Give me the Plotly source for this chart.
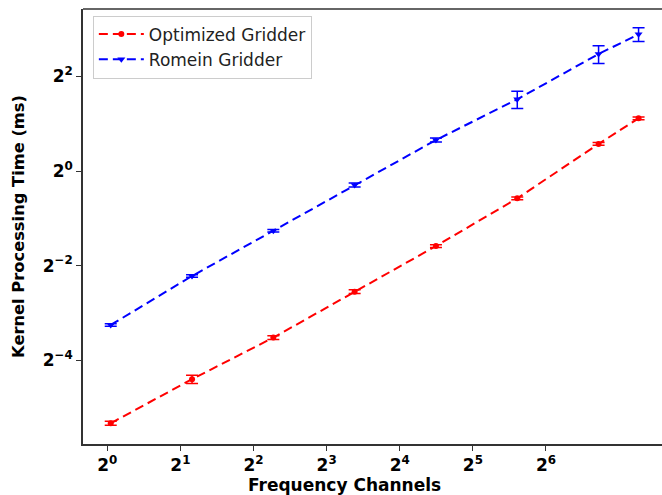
import plotly.graph_objects as go

# Kernel timings (ms) per number of frequency channels
channels = [1, 2, 4, 8, 16, 32, 64, 90]
optimized_ms = [0.0248, 0.0473, 0.0870, 0.1707, 0.333, 0.670, 1.486, 2.165]
optimized_err = [0.0007, 0.0029, 0.0024, 0.0048, 0.0067, 0.013, 0.030, 0.043]
romein_ms = [0.1047, 0.2146, 0.4169, 0.8143, 1.575, 2.86, 5.556, 7.41]
romein_err = [0.002, 0.004, 0.008, 0.024, 0.047, 0.36, 0.72, 0.74]

x_tick_exponents = [0, 1, 2, 3, 4, 5, 6]
x_labels = ["2<sup>%d</sup>" % k for k in x_tick_exponents]
y_ticks = [2 ** -4, 2 ** -2, 2 ** 0, 2 ** 2]
y_labels = ["2<sup>\u22124</sup>", "2<sup>\u22122</sup>", "2<sup>0</sup>", "2<sup>2</sup>"]

FONT = "DejaVu Sans"
LOG2 = 0.30103


def tick_position(k):
    # the tick ruler runs on a slightly narrower octave spacing than the data
    return 2 ** ((73.1 * k - 3.4) / 81.3)


fig = go.Figure()

fig.add_trace(go.Scatter(
    x=channels, y=optimized_ms, name="Optimized Gridder",
    mode="lines+markers",
    line=dict(color="#ff0000", width=2, dash="9px,5px"),
    marker=dict(symbol="circle", size=6, color="#ff0000"),
    error_y=dict(type="data", array=optimized_err, visible=True,
                 color="#ff0000", thickness=1.5, width=6),
))
fig.add_trace(go.Scatter(
    x=channels, y=romein_ms, name="Romein Gridder",
    mode="lines+markers",
    line=dict(color="#0000ff", width=2, dash="9px,5px"),
    marker=dict(symbol="triangle-down", size=7, color="#0000ff"),
    error_y=dict(type="data", array=romein_err, visible=True,
                 color="#0000ff", thickness=1.5, width=6),
))

axis_line = dict(showline=True, linecolor="#333333", linewidth=1.5,
                 showgrid=False, zeroline=False,
                 ticks="outside", ticklen=5, tickwidth=1, tickcolor="#333333")
tick_font = dict(family=FONT, size=17, weight="bold", color="black")

fig.update_layout(
    width=662, height=495,
    margin=dict(l=83, r=0, t=9, b=51),
    plot_bgcolor="white", paper_bgcolor="white",
    font=dict(family=FONT, color="black"),
    showlegend=True,
    legend=dict(
        x=0.017, y=0.985, xanchor="left", yanchor="top",
        bgcolor="rgba(255,255,255,0.8)", bordercolor="#cccccc", borderwidth=1,
        font=dict(family=FONT, size=17, color="#222222"),
        itemwidth=45, tracegroupgap=0,
    ),
    xaxis=dict(
        type="log",
        range=[-0.341 * LOG2, 6.78 * LOG2],
        tickmode="array",
        tickvals=[tick_position(k) for k in x_tick_exponents],
        ticktext=x_labels,
        tickfont=tick_font,
        **axis_line,
    ),
    yaxis=dict(
        type="log",
        range=[-5.772 * LOG2, 3.425 * LOG2],
        tickmode="array", tickvals=y_ticks, ticktext=y_labels,
        tickfont=tick_font,
        title=dict(text="Kernel Processing Time (ms)",
                   font=dict(family=FONT, size=16.3, weight="bold", color="black"),
                   standoff=14),
        **axis_line,
    ),
    shapes=[dict(type="line", xref="paper", yref="paper",
                 x0=0, x1=1, y0=1, y1=1,
                 line=dict(color="#333333", width=1.5))],
    annotations=[dict(
        text="Frequency Channels", xref="paper", yref="paper",
        x=(344 - 83) / 579, y=-0.095, xanchor="center", yanchor="middle",
        showarrow=False,
        font=dict(family=FONT, size=17, weight="bold", color="black"),
    )],
)

fig.write_html("out.html")
